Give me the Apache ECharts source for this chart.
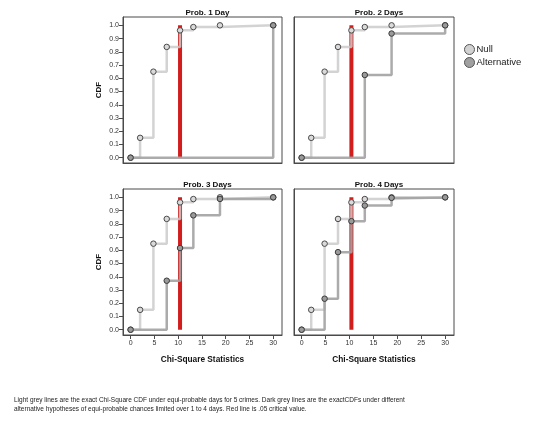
<!DOCTYPE html>
<html>
<head>
<meta charset="utf-8">
<script src="https://cdn.jsdelivr.net/npm/echarts@6/dist/echarts.min.js"></script>
<style>
html,body{margin:0;padding:0;background:#fff;}
#c{width:540px;height:432px;}
</style>
</head>
<body>
<div id="c"></div>
<script>
// ---- data ----
const panelTitles = ['Prob. 1 Day', 'Prob. 2 Days', 'Prob. 3 Days', 'Prob. 4 Days'];
const nullX = [0, 2.0, 4.8, 7.6, 10.4, 13.2, 18.8, 30];
const nullCdf = [0, 0.150, 0.650, 0.837, 0.962, 0.987, 1.000, 1.000];
const alt1X = [0, 30];
const alt1Cdf = [0, 1.000];
const alt2X = [0, 13.2, 18.8, 30];
const alt2Cdf = [0, 0.625, 0.938, 1.000];
const alt3X = [0, 7.6, 10.4, 13.2, 18.8, 30];
const alt3Cdf = [0, 0.370, 0.617, 0.864, 0.988, 1.000];
const alt4X = [0, 4.8, 7.6, 10.4, 13.2, 18.8, 30];
const alt4Cdf = [0, 0.234, 0.586, 0.820, 0.938, 0.996, 1.000];
const criticalValue = 10.4;
const xTickValues = [0, 5, 10, 15, 20, 25, 30];
const yTickValues = [0, 0.1, 0.2, 0.3, 0.4, 0.5, 0.6, 0.7, 0.8, 0.9, 1.0];
const xAxisTitle = 'Chi-Square Statistics';
const yAxisTitle = 'CDF';
const legendNames = ['Null', 'Alternative'];
const captionLines = [
  'Light grey lines are the exact Chi-Square CDF under equi-probable days for 5 crimes. Dark grey lines are the exactCDFs under different',
  'alternative hypotheses of equi-probable chances limited over 1 to 4 days. Red line is .05 critical value.'
];

// ---- layout ----
const altX = [alt1X, alt2X, alt3X, alt4X];
const altCdf = [alt1Cdf, alt2Cdf, alt3Cdf, alt4Cdf];
const zip = (xs, ys) => xs.map((x, i) => [x, ys[i]]);

const gridPos = [
  {left: 123, top: 17, width: 159, height: 146},
  {left: 294, top: 17, width: 160, height: 146},
  {left: 123, top: 189, width: 159, height: 146},
  {left: 294, top: 189, width: 160, height: 146}
];
const axisColor = '#4a4a4a';
const fontFam = 'Liberation Sans, Arial, sans-serif';

const grids = gridPos.map(g => Object.assign({show: true, borderColor: axisColor, borderWidth: 1, backgroundColor: '#fff', containLabel: false}, g));

const xAxes = gridPos.map((g, i) => ({
  type: 'value', gridIndex: i, min: -1.6, max: 31.85,
  axisLine: {show: true, onZero: false, lineStyle: {color: axisColor}},
  axisTick: {show: i >= 2, length: 4, customValues: xTickValues, lineStyle: {color: axisColor}},
  axisLabel: {show: i >= 2, customValues: xTickValues, fontSize: 7, color: '#333', fontFamily: fontFam, margin: 5},
  splitLine: {show: false},
  name: i >= 2 ? xAxisTitle : '', nameLocation: 'middle', nameGap: 21,
  nameTextStyle: {fontSize: 8.3, fontWeight: 'bold', color: '#111', fontFamily: fontFam}
}));

const yAxes = gridPos.map((g, i) => ({
  type: 'value', gridIndex: i, min: -0.04, max: 1.063,
  axisLine: {show: true, onZero: false, lineStyle: {color: axisColor}},
  axisTick: {show: i % 2 === 0, length: 4, customValues: yTickValues, lineStyle: {color: axisColor}},
  axisLabel: {show: i % 2 === 0, customValues: yTickValues, fontSize: 7, color: '#333', fontFamily: fontFam, margin: 4,
    formatter: v => v.toFixed(1)},
  splitLine: {show: false},
  name: i % 2 === 0 ? yAxisTitle : '', nameLocation: 'middle', nameGap: 20,
  nameTextStyle: {fontSize: 8, fontWeight: 'bold', color: '#111', fontFamily: fontFam}
}));

const titles = gridPos.map((g, i) => ({
  text: panelTitles[i], left: g.left + g.width / 2, top: g.top - 13, textAlign: 'center',
  textStyle: {fontSize: 8, fontWeight: 'bold', color: '#111', fontFamily: fontFam}
}));

const nullColor = '#cbcbcb';
const altColor = '#a2a2a2';
const series = [];
gridPos.forEach((g, i) => {
  series.push({
    type: 'line', xAxisIndex: i, yAxisIndex: i, name: 'crit', silent: true,
    data: [[criticalValue, 0], [criticalValue, 1]], showSymbol: false, symbol: 'none',
    lineStyle: {color: '#d21d1d', width: 4}, z: 1, animation: false
  });
  series.push({
    type: 'line', xAxisIndex: i, yAxisIndex: i, name: legendNames[0], step: 'end',
    data: zip(nullX, nullCdf), symbol: 'circle', symbolSize: 5.5,
    lineStyle: {color: nullColor, width: 2.5, opacity: 0.85},
    itemStyle: {color: '#dadada', borderColor: '#4a4a4a', borderWidth: 1},
    z: 2, animation: false
  });
  series.push({
    type: 'line', xAxisIndex: i, yAxisIndex: i, name: legendNames[1], step: 'end',
    data: zip(altX[i], altCdf[i]), symbol: 'circle', symbolSize: 5.5,
    lineStyle: {color: altColor, width: 2.5, opacity: 0.9},
    itemStyle: {color: '#9a9a9a', borderColor: '#3a3a3a', borderWidth: 1},
    z: 3, animation: false
  });
});

const option = {
  backgroundColor: '#fff',
  animation: false,
  title: titles,
  grid: grids,
  xAxis: xAxes,
  yAxis: yAxes,
  legend: {
    orient: 'vertical', left: 459, top: 39, itemWidth: 10, itemHeight: 10, itemGap: 2,
    textStyle: {fontSize: 9.5, color: '#222', fontFamily: fontFam, padding: [0, 0, 0, -3]},
    selectedMode: false,
    data: [
      {name: legendNames[0], icon: 'circle', itemStyle: {color: '#d2d2d2', borderColor: '#555', borderWidth: 1}},
      {name: legendNames[1], icon: 'circle', itemStyle: {color: '#a0a0a0', borderColor: '#555', borderWidth: 1}}
    ]
  },
  graphic: [{
    type: 'text', left: 14, top: 396,
    style: {text: captionLines.join('\n'), fontSize: 6.5, lineHeight: 8.7, fill: '#222', fontFamily: fontFam}
  }],
  series: series
};

const chart = echarts.init(document.getElementById('c'), null, {renderer: 'canvas'});
chart.setOption(option);
</script>
</body>
</html>
